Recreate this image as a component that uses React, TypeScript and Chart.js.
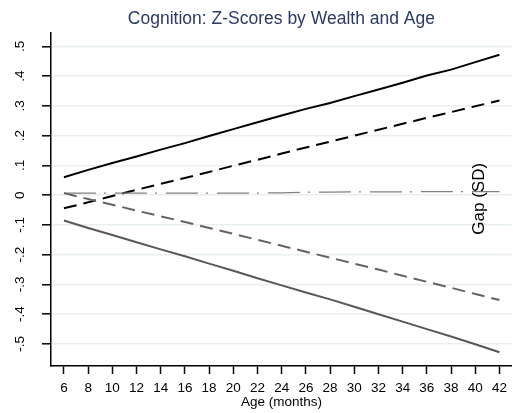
import React, { useEffect, useRef } from "react";
import { Chart, registerables } from "chart.js";

Chart.register(...registerables);

const TITLE = "Cognition: Z-Scores by Wealth and Age";
const X_TITLE = "Age (months)";
const GAP_LABEL = "Gap (SD)";

const ages = [6, 8, 10, 12, 14, 16, 18, 20, 22, 24, 26, 28, 30, 32, 34, 36, 38, 40, 42];
const xTicks = [6, 8, 10, 12, 14, 16, 18, 20, 22, 24, 26, 28, 30, 32, 34, 36, 38, 40, 42];
const yTicks = [-0.5, -0.4, -0.3, -0.2, -0.1, 0, 0.1, 0.2, 0.3, 0.4, 0.5];

const richSolid = [0.06, 0.085, 0.108, 0.13, 0.153, 0.175, 0.199, 0.222, 0.245, 0.268, 0.29, 0.31, 0.333, 0.355, 0.378, 0.402, 0.422, 0.447, 0.472];
const richDashed = [-0.044, -0.024, -0.003, 0.018, 0.038, 0.058, 0.078, 0.099, 0.119, 0.14, 0.16, 0.18, 0.2, 0.22, 0.24, 0.26, 0.279, 0.299, 0.318];
const gapLine = [0.007, 0.007, 0.007, 0.007, 0.007, 0.007, 0.007, 0.007, 0.007, 0.008, 0.01, 0.01, 0.011, 0.011, 0.011, 0.012, 0.012, 0.012, 0.012];
const poorDashed = [0.007, -0.013, -0.032, -0.052, -0.071, -0.09, -0.11, -0.13, -0.15, -0.17, -0.19, -0.21, -0.23, -0.25, -0.271, -0.291, -0.311, -0.332, -0.352];
const poorSolid = [-0.085, -0.11, -0.134, -0.158, -0.182, -0.205, -0.23, -0.254, -0.279, -0.303, -0.327, -0.35, -0.375, -0.4, -0.425, -0.45, -0.475, -0.501, -0.528];

const X_MIN = 4.93;
const X_MAX = 43.02;
const Y_MIN = -0.574;
const Y_MAX = 0.545;
const GAP_LABEL_AGE = 40.3;
const GAP_LABEL_Y = -0.012;

const FONT = '"Liberation Sans", Arial, sans-serif';

const toPoints = (vals: number[]) => ages.map((a, i) => ({ x: a, y: vals[i] }));

const fmtY = (v: number) => {
  if (Math.abs(v) < 1e-9) return "0";
  return v.toFixed(1).replace("0.", ".");
};

const gapLabelPlugin = {
  id: "gapLabel",
  afterDatasetsDraw(chart: any) {
    const { ctx, scales } = chart;
    const px = scales.x.getPixelForValue(GAP_LABEL_AGE);
    const py = scales.y.getPixelForValue(GAP_LABEL_Y);
    ctx.save();
    ctx.translate(px, py);
    ctx.rotate(-Math.PI / 2);
    ctx.font = `17px ${FONT}`;
    ctx.fillStyle = "#000000";
    ctx.textAlign = "center";
    ctx.textBaseline = "middle";
    ctx.fillText(GAP_LABEL, 0, 0);
    ctx.restore();
  },
};

export default function App() {
  const ref = useRef<HTMLCanvasElement | null>(null);

  useEffect(() => {
    if (!ref.current) return;
    const chart = new Chart(ref.current, {
      type: "line",
      data: {
        datasets: [
          {
            label: "poorSolid",
            data: toPoints(poorSolid),
            borderColor: "#585858",
            borderWidth: 2,
            pointRadius: 0,
            fill: false,
          },
          {
            label: "poorDashed",
            data: toPoints(poorDashed),
            borderColor: "#636363",
            borderWidth: 2,
            borderDash: [13, 7],
            pointRadius: 0,
            fill: false,
          },
          {
            label: "gap",
            data: toPoints(gapLine),
            borderColor: "#808080",
            borderWidth: 1.3,
            borderDash: [32, 8, 2, 9],
            pointRadius: 0,
            fill: false,
          },
          {
            label: "richDashed",
            data: toPoints(richDashed),
            borderColor: "#000000",
            borderWidth: 2,
            borderDash: [13, 7],
            pointRadius: 0,
            fill: false,
          },
          {
            label: "richSolid",
            data: toPoints(richSolid),
            borderColor: "#000000",
            borderWidth: 2,
            pointRadius: 0,
            fill: false,
          },
        ],
      },
      options: {
        responsive: false,
        animation: false,
        layout: { padding: { left: 10, right: 0, top: 0, bottom: 0 } },
        plugins: {
          legend: { display: false },
          tooltip: { enabled: false },
          title: {
            display: true,
            text: TITLE,
            fullSize: false,
            color: "#2a3a64",
            font: { family: FONT, size: 17.5, weight: "normal", lineHeight: 1.2 },
            padding: { top: 9, bottom: 3 },
          },
        },
        scales: {
          x: {
            type: "linear",
            min: X_MIN,
            max: X_MAX,
            afterBuildTicks: (scale: any) => {
              scale.ticks = xTicks.map((v) => ({ value: v }));
            },
            afterFit: (scale: any) => {
              scale.height = 47;
            },
            ticks: {
              color: "#000000",
              font: { family: FONT, size: 13.5, lineHeight: 1.2 },
              padding: 6,
              maxRotation: 0,
              minRotation: 0,
              autoSkip: false,
              callback: (v: any) => String(v),
            },
            grid: {
              drawOnChartArea: false,
              drawTicks: true,
              tickLength: 8,
              tickColor: "#000000",
              tickWidth: 1.5,
            },
            border: { color: "#000000", width: 1.5 },
            title: {
              display: true,
              text: X_TITLE,
              color: "#000000",
              font: { family: FONT, size: 13.5, lineHeight: 1.2 },
              padding: { top: 0, bottom: 3 },
            },
          },
          y: {
            type: "linear",
            min: Y_MIN,
            max: Y_MAX,
            afterBuildTicks: (scale: any) => {
              scale.ticks = yTicks.map((v) => ({ value: v }));
            },
            afterFit: (scale: any) => {
              scale.width = 41;
            },
            ticks: {
              color: "#000000",
              font: { family: FONT, size: 13.5, lineHeight: 1.2 },
              padding: 14,
              minRotation: 90,
              maxRotation: 90,
              crossAlign: "center",
              autoSkip: false,
              callback: (v: any) => fmtY(Number(v)),
            },
            grid: {
              color: "#e8eff1",
              lineWidth: 1.6,
              drawOnChartArea: true,
              drawTicks: true,
              tickLength: 9,
              tickColor: "#000000",
              tickWidth: 1.5,
            },
            border: { color: "#000000", width: 1.5 },
          },
        },
      },
      plugins: [gapLabelPlugin],
    } as any);
    return () => chart.destroy();
  }, []);

  return (
    <div style={{ position: "fixed", left: 0, top: 0, width: 513, height: 413, background: "#ffffff" }}>
      <canvas ref={ref} width={513} height={413} style={{ display: "block" }} />
    </div>
  );
}
